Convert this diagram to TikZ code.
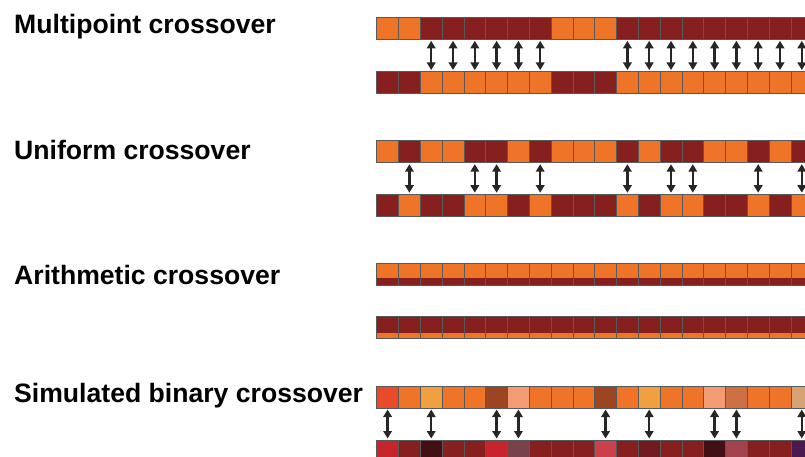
\documentclass[tikz,border=0pt]{standalone}
\usepackage{fontspec}
\setmainfont{Liberation Sans}
\usetikzlibrary{arrows.meta}

\definecolor{orng}{HTML}{F07427}
\definecolor{dred}{HTML}{85201F}
\definecolor{redorng}{HTML}{E94B2A}
\definecolor{lightorng}{HTML}{F0A040}
\definecolor{brwn}{HTML}{9C4522}
\definecolor{salmon}{HTML}{F39B72}
\definecolor{clay}{HTML}{CD7043}
\definecolor{tan}{HTML}{D6A276}
\definecolor{crim}{HTML}{C8242B}
\definecolor{darkwine}{HTML}{420F15}
\definecolor{mauve}{HTML}{77424A}
\definecolor{rose}{HTML}{CB404A}
\definecolor{wine}{HTML}{711A22}
\definecolor{plum}{HTML}{A0434D}
\definecolor{purp}{HTML}{4A1A4E}

\tikzset{
  gene/.style={draw=black!65, line width=0.6pt, minimum width=21.8pt,
    minimum height=22pt, inner sep=0pt, outer sep=0pt},
  xchg/.style={{Triangle[width=8.5pt,length=7.5pt]}-{Triangle[width=8.5pt,length=7.5pt]},
    line width=2.4pt, draw=black!85, shorten <=1.5pt, shorten >=1.5pt},
  opname/.style={anchor=base west, inner sep=0pt,
    font=\fontsize{26.6}{30}\selectfont\bfseries}
}

\begin{document}
\begin{tikzpicture}[x=1pt, y=-1pt]
  \useasboundingbox (0,0) rectangle (805,457);
  \clip (0,0) rectangle (805,457);

  \node[opname] (multi) at (14,34) {Multipoint crossover};
  \foreach \c [count=\i from 0] in {orng,orng,dred,dred,dred,dred,dred,dred,orng,orng,
      orng,dred,dred,dred,dred,dred,dred,dred,dred,dred}
    \node[gene, fill=\c] (mt\i) at ({387.6+21.8*\i}, 28.3) {};
  \foreach \c [count=\i from 0] in {dred,dred,orng,orng,orng,orng,orng,orng,dred,dred,
      dred,orng,orng,orng,orng,orng,orng,orng,orng,orng}
    \node[gene, fill=\c] (mb\i) at ({387.6+21.8*\i}, 82.5) {};
  \foreach \i in {2,...,7,11,12,...,19}
    \draw[xchg] (mt\i.south) -- (mb\i.north);

  \node[opname] (unif) at (14,159.3) {Uniform crossover};
  \foreach \c [count=\i from 0] in {orng,dred,orng,orng,dred,dred,orng,dred,orng,orng,
      orng,dred,orng,dred,dred,orng,orng,dred,orng,dred}
    \node[gene, fill=\c] (ut\i) at ({387.6+21.8*\i}, 151.7) {};
  \foreach \c [count=\i from 0] in {dred,orng,dred,dred,orng,orng,dred,orng,dred,dred,
      dred,orng,dred,orng,orng,dred,dred,orng,dred,orng}
    \node[gene, fill=\c] (ub\i) at ({387.6+21.8*\i}, 205.2) {};
  \foreach \i in {1,4,5,7,11,13,14,17,19}
    \draw[xchg] (ut\i.south) -- (ub\i.north);

  \node[opname] (arith) at (14,284.3) {Arithmetic crossover};
  \foreach \i in {0,...,19} {
    \node[gene, fill=orng, path picture={
        \fill[dred] (path picture bounding box.south west)
          rectangle ([yshift=7.4pt]path picture bounding box.south east);}]
      (at\i) at ({387.6+21.8*\i}, 274.5) {};
    \node[gene, fill=dred, path picture={
        \fill[orng] (path picture bounding box.south west)
          rectangle ([yshift=6pt]path picture bounding box.south east);}]
      (ab\i) at ({387.6+21.8*\i}, 327.5) {};
  }

  \node[opname] (sbx) at (14,402.3) {Simulated binary crossover};
  \foreach \c [count=\i from 0] in {redorng,orng,lightorng,orng,orng,brwn,salmon,orng,orng,orng,
      brwn,orng,lightorng,orng,orng,salmon,clay,orng,orng,tan}
    \node[gene, fill=\c] (st\i) at ({387.6+21.8*\i}, 397) {};
  \foreach \c [count=\i from 0] in {crim,dred,darkwine,dred,dred,crim,mauve,dred,dred,dred,
      rose,dred,wine,dred,dred,darkwine,plum,dred,dred,purp}
    \node[gene, fill=\c] (sb\i) at ({387.6+21.8*\i}, 451) {};
  \foreach \i in {0,2,5,6,10,12,15,16,19}
    \draw[xchg] (st\i.south) -- (sb\i.north);
\end{tikzpicture}
\end{document}
